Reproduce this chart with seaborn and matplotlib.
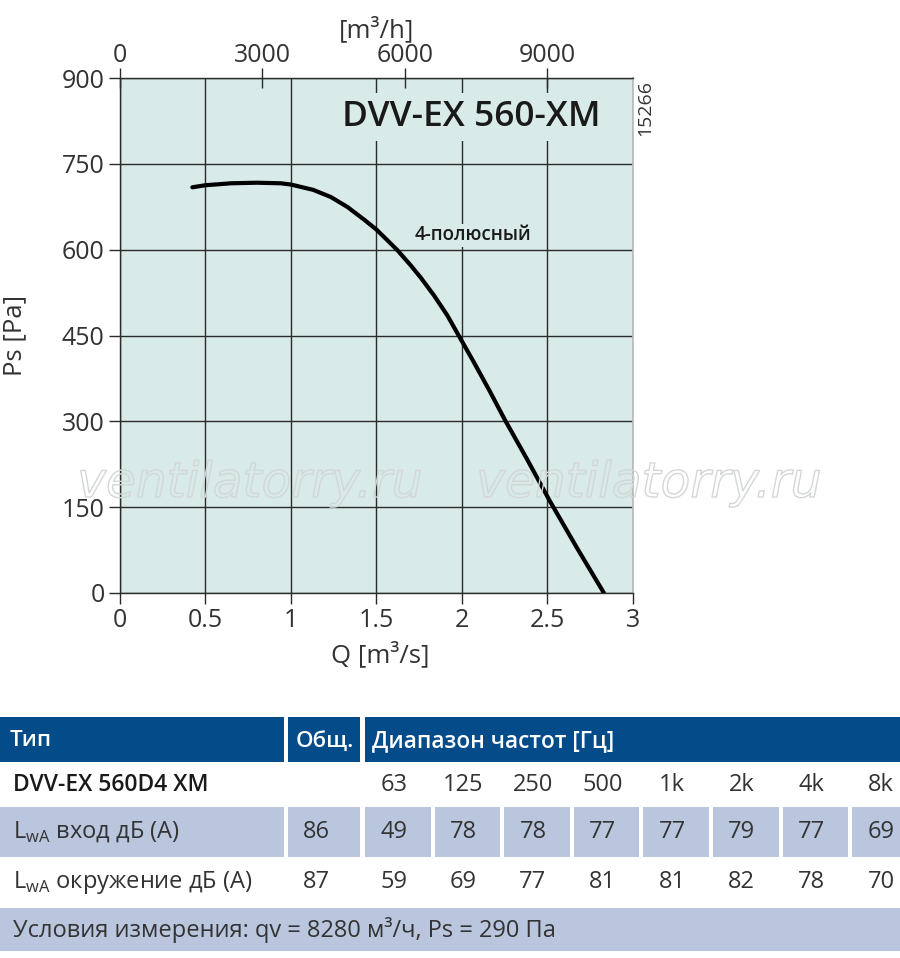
import matplotlib
matplotlib.use("Agg")
import matplotlib.pyplot as plt
import matplotlib.patheffects as pe
from matplotlib.patches import Rectangle
import pandas as pd
import seaborn as sns

# fan curve
q_m3s = [0.423, 0.50, 0.65, 0.80, 0.94, 1.00, 1.13, 1.233, 1.33, 1.428, 1.50, 1.564,
         1.623, 1.70, 1.759, 1.835, 1.913, 1.99, 2.068, 2.16, 2.25, 2.38, 2.515, 2.67, 2.83]
ps_pa = [709, 712.6, 716, 717, 716, 713.8, 704.5, 692, 674.6, 652.4, 635, 616.3,
         598.8, 572.6, 551, 520.5, 485.7, 445, 404, 354, 303, 234, 160, 80, 0]

x_ticks = [0, 0.5, 1, 1.5, 2, 2.5, 3]
y_ticks = [0, 150, 300, 450, 600, 750, 900]
top_ticks = [0, 3000, 6000, 9000]

model = "DVV-EX 560-XM"
curve_label = "4-полюсный"
doc_no = "15266"
watermark = "ventilatorry.ru"

# sound table
tbl_head = ["Тип", "Общ.", "Диапазон частот [Гц]"]
type_name = "DVV-EX 560D4 XM"
freqs = ["63", "125", "250", "500", "1k", "2k", "4k", "8k"]
inlet_total = 86
inlet_db = [49, 78, 78, 77, 77, 79, 77, 69]
surr_total = 87
surr_db = [59, 69, 77, 81, 81, 82, 78, 70]
row_names = [r"L$_{\rm wA}$ вход дБ (А)", r"L$_{\rm wA}$ окружение дБ (А)"]
note = "Условия измерения: qv = 8280 м³/ч, Ps = 290 Па"

sns.set_theme(style="white")
plt.rcParams["font.family"] = ["Open Sans", "DejaVu Sans"]
plt.rcParams["mathtext.fontset"] = "custom"
plt.rcParams["mathtext.rm"] = "Open Sans"

BG = "#d8ebe8"
TXT = "#333333"
BLUE = "#044b8a"
LIGHT = "#b9c6dd"

fig = plt.figure(figsize=(9, 9.58), dpi=100)
ax = fig.add_axes([120 / 900, 1 - 593 / 958, 513 / 900, 515 / 958])
ax.set_facecolor(BG)

df = pd.DataFrame({"Q": q_m3s, "Ps": ps_pa})
sns.lineplot(data=df, x="Q", y="Ps", ax=ax, color="black", lw=3.0, zorder=4)

ax.set_xlim(0, 3)
ax.set_ylim(0, 900)
ax.set_xticks(x_ticks)
ax.set_xticklabels(["0", "0.5", "1", "1.5", "2", "2.5", "3"])
ax.set_yticks(y_ticks)
ax.grid(True, color="#2b2b2b", lw=1)
ax.set_axisbelow(True)
for s in ["left", "bottom", "top"]:
    ax.spines[s].set_color("#2b2b2b")
    ax.spines[s].set_linewidth(1)
ax.spines["right"].set_color("#bbbbbb")
ax.tick_params(axis="both", direction="out", length=8, width=1, color="#2b2b2b",
               labelsize=18, labelcolor=TXT, pad=3)
ax.tick_params(left=True, bottom=True)
ax.set_xlabel("Q [m³/s]", fontsize=18.5, color=TXT)
ax.set_ylabel("Ps [Pa]", fontsize=18.5, color=TXT)
ax.xaxis.set_label_coords(0.507, -0.12)
ax.xaxis.label.set_va("center")
ax.yaxis.set_label_coords(-0.205, 0.5)
ax.yaxis.label.set_va("center")

top = ax.secondary_xaxis("top", functions=(lambda q: q * 3600, lambda m: m / 3600))
top.set_xticks(top_ticks)
top.tick_params(direction="inout", length=14, width=1, color="#2b2b2b",
                labelsize=18, labelcolor=TXT, pad=0)
top.spines["top"].set_visible(False)
top.set_xlabel("[m³/h]", fontsize=18.5, color=TXT, labelpad=4)

ax.text(2.81, 832, model, ha="right", va="center", fontsize=25.5, color="#1a1a1a",
        fontweight="semibold", zorder=5,
        bbox=dict(fc=BG, ec="none", pad=5))
ax.text(1.725, 625, curve_label, ha="left", va="center", fontsize=13.5, color="#1a1a1a",
        fontweight="semibold", zorder=5, bbox=dict(fc=BG, ec="none", pad=1))
fig.text(645 / 900, 1 - 108 / 958, doc_no, rotation=90, ha="center", va="center",
         fontsize=14, color=TXT)

for cx in [250, 649]:
    fig.text(cx / 900, 1 - 483 / 958, watermark, ha="center", va="center",
             fontsize=35, style="italic", color="none", zorder=10,
             family=["DejaVu Sans"],
             path_effects=[pe.Stroke(linewidth=1.0, foreground="#d3d7d7")])

# table drawn in pixel coordinates
tab = fig.add_axes([0, 0, 1, 258 / 958])
tab.set_xlim(0, 900)
tab.set_ylim(958, 700)
tab.axis("off")

col0 = (0, 284)
col1 = (288, 360)
fstart, fstep, fw = 365, 69.6, 65.5
FS = 17


def cell(x0, x1, y0, y1, color):
    tab.add_patch(Rectangle((x0, y0), x1 - x0, y1 - y0, fc=color, ec="none"))


# header
cell(col0[0], col0[1], 717, 762, BLUE)
cell(col1[0], col1[1], 717, 762, BLUE)
cell(fstart, 900, 717, 762, BLUE)
hy = 741
tab.text(10, hy, tbl_head[0], color="white", fontsize=16, fontweight="semibold", va="center")
tab.text(296, hy, tbl_head[1], color="white", fontsize=16, fontweight="semibold", va="center")
tab.text(372, hy, tbl_head[2], color="white", fontsize=16.3, fontweight="semibold", va="center")

# frequency row
tab.text(13, 785, type_name, color="#1a1a1a", fontsize=16.5, fontweight="semibold", va="center")
for i, f in enumerate(freqs):
    cx = fstart + i * fstep + fw / 2 - 4
    tab.text(cx, 785, f, color=TXT, fontsize=FS, ha="center", va="center")

# inlet row (shaded cells)
cell(col0[0], col0[1], 807, 857, LIGHT)
cell(col1[0], col1[1], 807, 857, LIGHT)
for i in range(len(freqs)):
    x0 = fstart + i * fstep
    cell(x0, min(x0 + fw, 900), 807, 857, LIGHT)
tab.text(13, 832, row_names[0], color=TXT, fontsize=FS, va="center")
tab.text(316, 832, str(inlet_total), color=TXT, fontsize=FS, ha="center", va="center")
for i, v in enumerate(inlet_db):
    cx = fstart + i * fstep + fw / 2 - 4
    tab.text(cx, 832, str(v), color=TXT, fontsize=FS, ha="center", va="center")

# surroundings row
tab.text(13, 882, row_names[1], color=TXT, fontsize=FS, va="center")
tab.text(316, 882, str(surr_total), color=TXT, fontsize=FS, ha="center", va="center")
for i, v in enumerate(surr_db):
    cx = fstart + i * fstep + fw / 2 - 4
    tab.text(cx, 882, str(v), color=TXT, fontsize=FS, ha="center", va="center")

# measurement conditions
cell(0, 900, 908, 951, LIGHT)
tab.text(13, 930, note, color=TXT, fontsize=FS, va="center")

fig.savefig("out.png", dpi=100, facecolor="white")
